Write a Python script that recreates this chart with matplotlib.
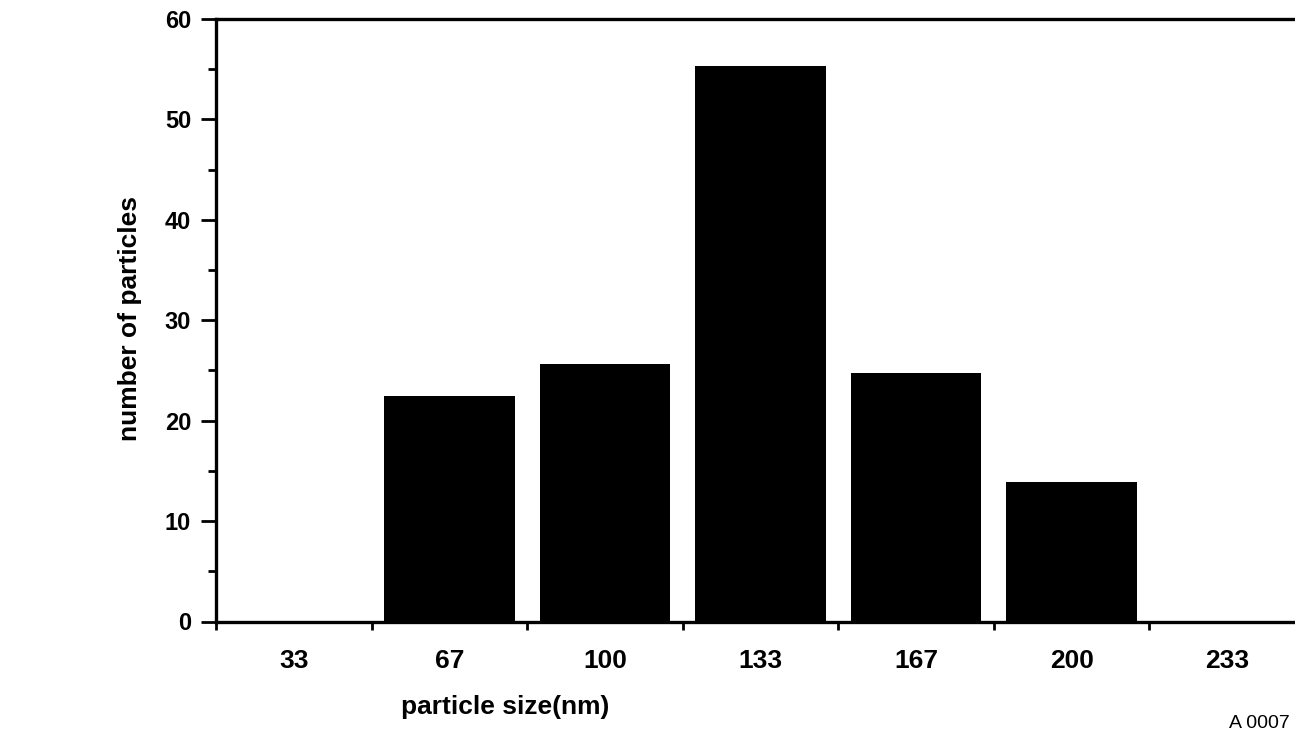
"""
Recreate a scanned histogram of particle sizes as a black bar chart.
"""

import matplotlib.pyplot as plt
from matplotlib.ticker import MultipleLocator

plt.rcParams["font.family"] = ["Liberation Sans", "DejaVu Sans"]

# Data
size_labels = ["33", "67", "100", "133", "167", "200", "233"]
particle_counts = [0, 22.5, 25.6, 55.3, 24.7, 13.9, 0]

FIG_W, FIG_H, DPI = 12.95, 7.35, 100

fig = plt.figure(figsize=(FIG_W, FIG_H), dpi=DPI)
# axes run a little past the right edge, as in the cropped scan
ax = fig.add_axes([216 / 1295, 113.5 / 735, 1089 / 1295, 602.5 / 735])

positions = list(range(len(size_labels)))
ax.bar(positions, particle_counts, width=0.84, color="black", edgecolor="none")

ax.set_xlim(-0.5, len(size_labels) - 0.5)
ax.set_ylim(0, 60)

for side in ["left", "bottom", "top"]:
    ax.spines[side].set_linewidth(2.4)
ax.spines["right"].set_visible(False)

ax.yaxis.set_major_locator(MultipleLocator(10))
ax.yaxis.set_minor_locator(MultipleLocator(5))
ax.tick_params(axis="y", which="major", length=11, width=2, pad=7, labelsize=17)
ax.tick_params(axis="y", which="minor", length=6, width=2)

ax.set_xticks(positions)
ax.set_xticklabels(size_labels)
ax.set_xticks([p - 0.5 for p in positions] + [positions[-1] + 0.5], minor=True)
ax.tick_params(axis="x", which="major", length=0, pad=20, labelsize=19)
ax.tick_params(axis="x", which="minor", length=6, width=2)
for label in ax.get_xticklabels() + ax.get_yticklabels():
    label.set_fontweight("bold")

fig.text(130 / 1295, 1 - 318 / 735, "number of particles", rotation=90,
         ha="center", va="center", fontsize=19, fontweight="bold")
fig.text(505 / 1295, 1 - 707 / 735, "particle size(nm)",
         ha="center", va="center", fontsize=19, fontweight="bold")
fig.text(1290 / 1295, 1 - 724 / 735, "A 0007", ha="right", va="center",
         fontsize=14)

fig.savefig("out.png", dpi=DPI)
